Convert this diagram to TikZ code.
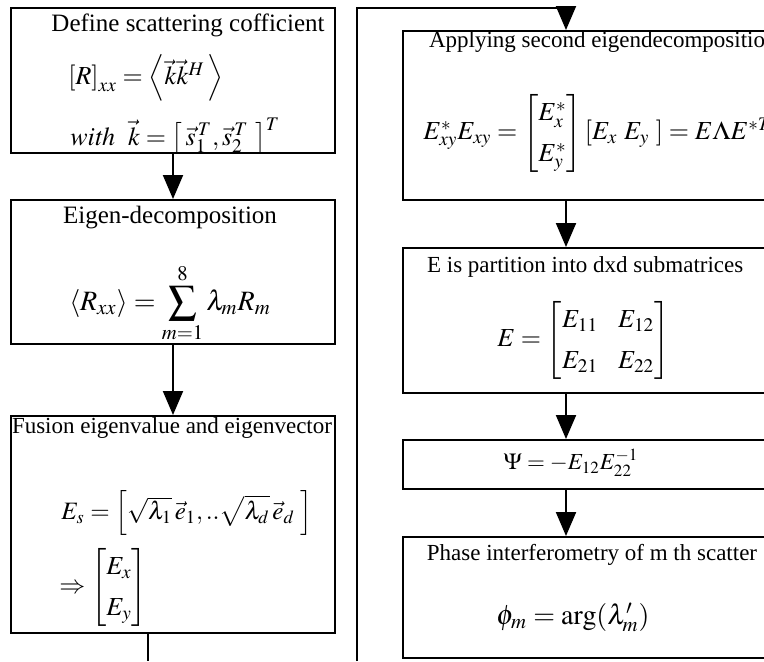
\documentclass[tikz,border=0pt]{standalone}
\usepackage{amsmath}
\usepackage{mathptmx}
\usepackage[no-math]{fontspec}
\setmainfont{Liberation Serif}
\usetikzlibrary{arrows.meta,positioning}

\begin{document}
\begin{tikzpicture}[x=0.5pt,y=-0.5pt,
        font=\fontsize{11.5}{14}\selectfont,
        stage/.style={draw, line width=1pt, anchor=north west, inner sep=0pt},
        eq/.style={inner sep=0pt, font=\fontsize{#1}{17}\selectfont\renewcommand{\arraystretch}{1.2}},
        eq/.default=13,
        flow/.style={line width=1pt, -{Triangle[length=12pt,width=10pt]}}]
    \useasboundingbox (0,0) rectangle (764,661);
    \clip (0,0) rectangle (764,661);
    % left column
    \node[stage, minimum width=162pt, minimum height=72.5pt] (define) at (10,7) {};
    \node[stage, minimum width=162pt, minimum height=72pt] (eigen) at (10,199) {};
    \node[stage, minimum width=162pt, minimum height=108.5pt] (fusion) at (10,415) {};
    \node[font=\fontsize{12.5}{15}\selectfont] (defineT) at (188,25) {Define scattering cofficient};
    \node[eq, anchor=west] (defineA) at (68,78) {$\left[R\right]_{xx}=\left\langle \vec{k}\vec{k}^{H}\,\right\rangle$};
    \node[eq, anchor=west] (defineB) at (70,136) {$\mathit{with}\ \ \vec{k}=\left[\,\vec{s}_1^{\,T},\vec{s}_2^{\,T}\ \right]^{T}$};
    \node[font=\fontsize{12.5}{15}\selectfont] (eigenT) at (170,218) {Eigen-decomposition};
    \node[eq=14] (eigenA) at (170,303) {$\left\langle R_{xx}\right\rangle=\displaystyle\sum_{m=1}^{8}\lambda_m R_m$};
    \node (fusionT) at (172,428) {Fusion eigenvalue and eigenvector};
    \node[eq=12.5, anchor=west] (fusionA) at (61,513) {$E_s=\left[\sqrt{\lambda_1}\,\vec{e}_1,..\sqrt{\lambda_d}\,\vec{e}_d\ \right]$};
    \node[eq, anchor=west] (fusionB) at (59,587) {$\Rightarrow\begin{bmatrix}E_x\\ E_y\end{bmatrix}$};
    % right column
    \coordinate (rx) at (566,0);
    \node[stage, minimum width=220pt, minimum height=84.5pt] (apply) at (402,30) {};
    \node[stage, minimum width=220pt, minimum height=72.5pt] (part) at (402,247) {};
    \node[stage, minimum width=220pt, minimum height=24.5pt] (psi) at (402,439) {};
    \node[stage, minimum width=220pt, minimum height=60.5pt] (phase) at (402,536) {};
    \node[anchor=west] (applyT) at (422,42) {Applying second eigendecomposition};
    \node[eq, anchor=west] (applyA) at (423,133) {$E^{*}_{xy}E_{xy}=\begin{bmatrix}E_x^{*}\\ E_y^{*}\end{bmatrix}\left[E_x\ E_y\ \right]=E\Lambda E^{*T}$};
    \node[anchor=west] (partT) at (420,267) {E is partition into dxd submatrices};
    \node[eq, anchor=west] (partA) at (497,340) {$E=\begin{bmatrix}E_{11} & E_{12}\\ E_{21} & E_{22}\end{bmatrix}$};
    \node[eq=11.5] (psiA) at (571,463) {$\Psi=-E_{12}E_{22}^{-1}$};
    \node (phaseT) at (592,555) {Phase interferometry of m th scatter};
    \node[eq=14] (phaseA) at (573,617) {$\phi_m=\arg(\lambda'_m)$};
    % connectors
    \coordinate (exitL) at (148,661);
    \coordinate (loopB) at (357,661);
    \coordinate (loopT) at (357,8);
    \draw[flow] (define) -- (eigen);
    \draw[flow] (eigen) -- (fusion);
    \draw[line width=1pt] (fusion.south -| exitL) -- (exitL);
    \draw[flow] (loopB) -- (loopT) -| (apply.north -| rx);
    \draw[flow] (apply.south -| rx) -- (part.north -| rx);
    \draw[flow] (part.south -| rx) -- (psi.north -| rx);
    \draw[flow] (psi.south -| rx) -- (phase.north -| rx);
\end{tikzpicture}
\end{document}
